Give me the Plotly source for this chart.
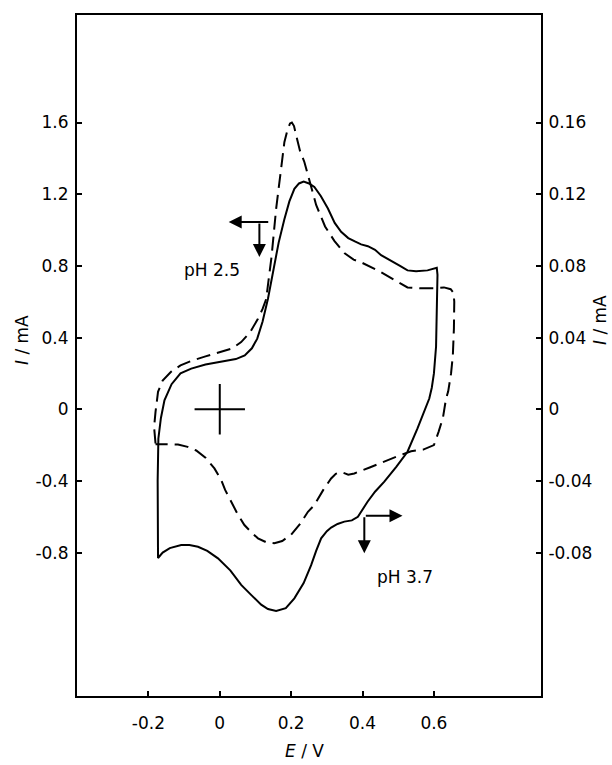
import plotly.graph_objects as go

# ---- data ----
solid_E = [-0.173, -0.174, -0.172, -0.165, -0.155, -0.135, -0.11, -0.08, -0.04, 0.013, 0.045, 0.07, 0.09,
           0.105, 0.12, 0.135, 0.15, 0.165, 0.181, 0.195, 0.209, 0.222, 0.235, 0.25, 0.265, 0.283, 0.303,
           0.322, 0.34, 0.36, 0.38, 0.396, 0.415, 0.435, 0.452, 0.48, 0.505, 0.526, 0.55, 0.582, 0.6,
           0.608, 0.61, 0.609, 0.606, 0.6, 0.594, 0.587, 0.572, 0.554, 0.526, 0.495, 0.461, 0.435, 0.414,
           0.398, 0.387, 0.37, 0.349, 0.33, 0.312, 0.3, 0.284, 0.27, 0.256, 0.235, 0.209, 0.185, 0.158,
           0.135, 0.116, 0.09, 0.06, 0.03, -0.005, -0.035, -0.061, -0.085, -0.108, -0.14, -0.16, -0.173,
           -0.173]
solid_I = [-0.817, -0.4, -0.163, -0.05, 0.05, 0.14, 0.2, 0.227, 0.25, 0.267, 0.28, 0.3, 0.34,
           0.394, 0.49, 0.617, 0.78, 0.93, 1.06, 1.16, 1.23, 1.26, 1.27, 1.26, 1.24, 1.19, 1.12,
           1.04, 0.99, 0.955, 0.935, 0.92, 0.91, 0.89, 0.86, 0.83, 0.8, 0.775, 0.77, 0.775, 0.785,
           0.79, 0.75, 0.55, 0.35, 0.2, 0.12, 0.06, -0.02, -0.107, -0.237, -0.32, -0.404, -0.46, -0.516,
           -0.565, -0.6, -0.62, -0.627, -0.64, -0.66, -0.68, -0.72, -0.79, -0.87, -0.97, -1.055, -1.11, -1.125,
           -1.115, -1.09, -1.04, -0.98, -0.9, -0.832, -0.79, -0.767, -0.757, -0.758, -0.775, -0.8, -0.83,
           -0.817]

dashed_E = [-0.18, -0.184, -0.18, -0.173, -0.16, -0.136, -0.11, -0.08, -0.04, 0.004, 0.035, 0.06, 0.085,
            0.107, 0.12, 0.13, 0.145, 0.158, 0.17, 0.181, 0.19, 0.197, 0.202, 0.208, 0.215, 0.225, 0.237,
            0.25, 0.27, 0.295, 0.321, 0.35, 0.375, 0.396, 0.42, 0.452, 0.49, 0.526, 0.56, 0.6, 0.628,
            0.647, 0.655, 0.657, 0.656, 0.653, 0.648, 0.64, 0.634, 0.625, 0.613, 0.6, 0.57, 0.536, 0.5,
            0.461, 0.42, 0.377, 0.36, 0.34, 0.325, 0.312, 0.29, 0.265, 0.247, 0.225, 0.2, 0.175, 0.153,
            0.13, 0.107, 0.09, 0.069, 0.05, 0.032, 0.015, 0.004, -0.015, -0.04, -0.066, -0.09, -0.117,
            -0.15, -0.18]
dashed_I = [-0.19, -0.1, -0.015, 0.097, 0.16, 0.21, 0.245, 0.27, 0.295, 0.32, 0.34, 0.375, 0.43,
            0.505, 0.56, 0.615, 0.85, 1.12, 1.32, 1.49, 1.56, 1.595, 1.6, 1.58, 1.52, 1.44, 1.38,
            1.29, 1.14, 1.02, 0.94, 0.87, 0.835, 0.82, 0.795, 0.765, 0.72, 0.68, 0.675, 0.675, 0.68,
            0.67, 0.65, 0.6, 0.45, 0.3, 0.2, 0.1, 0.06, -0.05, -0.126, -0.2, -0.225, -0.234, -0.26,
            -0.293, -0.325, -0.358, -0.365, -0.35, -0.36, -0.386, -0.45, -0.535, -0.572, -0.64, -0.7, -0.735,
            -0.748, -0.742, -0.72, -0.69, -0.646, -0.585, -0.516, -0.45, -0.395, -0.33, -0.27, -0.23, -0.21,
            -0.197, -0.195, -0.195]

x_ticks = [-0.2, 0, 0.2, 0.4, 0.6]
x_ticklabels = ["-0.2", "0", "0.2", "0.4", "0.6"]
yl_ticks = [-0.8, -0.4, 0, 0.4, 0.8, 1.2, 1.6]
yl_ticklabels = ["-0.8", "-0.4", "0", "0.4", "0.8", "1.2", "1.6"]
yr_ticks = [-0.08, -0.04, 0, 0.04, 0.08, 0.12, 0.16]
yr_ticklabels = ["-0.08", "-0.04", "0", "0.04", "0.08", "0.12", "0.16"]

origin = (0.0, 0.0)
ph25_label = "pH 2.5"
ph37_label = "pH 3.7"

FONT = "DejaVu Sans"
FS = 17

fig = go.Figure()
fig.add_trace(go.Scatter(x=solid_E, y=solid_I, mode="lines",
                         line=dict(color="black", width=2), showlegend=False))
fig.add_trace(go.Scatter(x=dashed_E, y=dashed_I, mode="lines",
                         line=dict(color="black", width=2, dash="14px,7px"), showlegend=False))
# origin cross
fig.add_trace(go.Scatter(x=[origin[0]], y=[origin[1]], mode="markers",
                         marker=dict(symbol="cross-thin", size=36, line=dict(width=2, color="black")),
                         showlegend=False))
# dummy trace for right axis
fig.add_trace(go.Scatter(x=[None], y=[None], yaxis="y2", showlegend=False))

axis_common = dict(showline=True, linecolor="black", linewidth=2, showgrid=False, zeroline=False,
                   ticks="inside", ticklen=5, tickwidth=1.5, tickcolor="black",
                   tickfont=dict(family=FONT, size=FS, color="black"))

fig.update_layout(
    width=612, height=765,
    margin=dict(l=77, r=71, t=15, b=69),
    paper_bgcolor="white", plot_bgcolor="white",
    xaxis=dict(range=[-0.4, 0.9], tickvals=x_ticks, ticktext=x_ticklabels, mirror=True,
               ticklabelstandoff=11, **axis_common),
    yaxis=dict(range=[-1.6, 2.2], tickvals=yl_ticks, ticktext=yl_ticklabels, mirror=True,
               ticklabelstandoff=3, **axis_common),
    yaxis2=dict(range=[-0.16, 0.22], tickvals=yr_ticks, ticktext=yr_ticklabels, overlaying="y",
                side="right", ticklabelstandoff=2, **axis_common),
)

arrow = dict(showarrow=True, arrowhead=2, arrowsize=1.3, arrowwidth=2, arrowcolor="black",
             xref="x", yref="y", axref="x", ayref="y", text="")
# pH 2.5 arrows (pointing left and down)
fig.add_annotation(x=0.025, y=1.045, ax=0.14, ay=1.045, **arrow)
fig.add_annotation(x=0.111, y=0.85, ax=0.111, ay=1.045, **arrow)
# pH 3.7 arrows (pointing right and down)
fig.add_annotation(x=0.512, y=-0.594, ax=0.405, ay=-0.594, **arrow)
fig.add_annotation(x=0.405, y=-0.804, ax=0.405, ay=-0.594, **arrow)

lab_font = dict(family=FONT, size=FS, color="black")
fig.add_annotation(x=-0.022, y=0.775, text=ph25_label, showarrow=False, xref="x", yref="y", font=lab_font,
                   xanchor="center", yanchor="middle")
fig.add_annotation(x=0.518, y=-0.938, text=ph37_label, showarrow=False, xref="x", yref="y", font=lab_font,
                   xanchor="center", yanchor="middle")

# axis titles
fig.add_annotation(x=0.491, y=-0.081, xref="paper", yref="paper", text="<i>E</i> / V",
                   showarrow=False, font=lab_font, xanchor="center", yanchor="middle")
fig.add_annotation(x=-0.1185, y=0.5228, xref="paper", yref="paper", text="<i>I</i> / mA",
                   showarrow=False, font=lab_font, textangle=-90, xanchor="center", yanchor="middle")
fig.add_annotation(x=1.127, y=0.552, xref="paper", yref="paper", text="<i>I</i> / mA",
                   showarrow=False, font=lab_font, textangle=-90, xanchor="center", yanchor="middle")

fig.write_html("out.html")
